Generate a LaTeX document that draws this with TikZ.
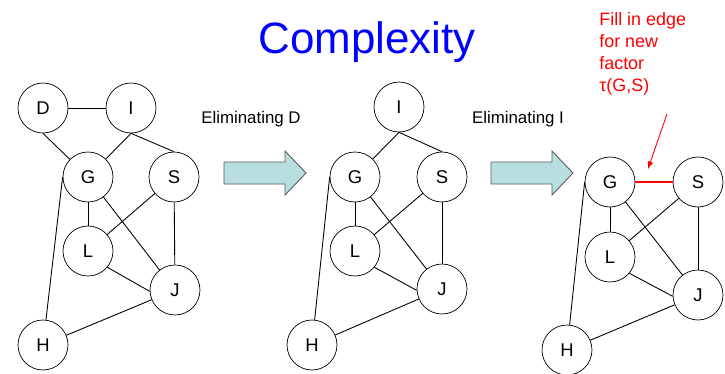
\documentclass[tikz,border=0pt]{standalone}
\usepackage{fontspec}
\setmainfont{Liberation Sans}
\usepackage{tikz}
\usetikzlibrary{arrows,shapes,positioning}
\definecolor{arrowfill}{RGB}{185,222,224}
\definecolor{arrowdraw}{RGB}{90,90,90}

\begin{document}
\begin{tikzpicture}[x=0.02cm,y=-0.02cm]
                    \tikzstyle{var}=[draw=black, circle, minimum size=1cm, inner sep=0pt, font=\fontsize{10.5}{12}\selectfont]
                    \tikzstyle{edge}=[black, line width=0.5pt]
                    \tikzstyle{fill in}=[red, line width=0.7pt]
                    \tikzstyle{step label}=[anchor=base, inner sep=0pt, font=\fontsize{9.6}{11}\selectfont]
                    \useasboundingbox (0,0) rectangle (725,373);
                    \draw (367,53) node [anchor=base, inner sep=0pt, text=blue, font=\fontsize{25}{30}\selectfont] (title) {Complexity};
                    % before
                    \node [var] (D1) at (43,108) {D};
                    \node [var] (I1) at (131,108) {I};
                    \node [var] (G1) at (88,177) {G};
                    \node [var] (S1) at (174,177) {S};
                    \node [var] (L1) at (88,251) {L};
                    \node [var] (J1) at (175,290) {J};
                    \node [var] (H1) at (43,345) {H};
                    \draw [edge] (D1) -- (I1);
                    \draw [edge] (D1.south) -- (G1);
                    \draw [edge] (I1.south) -- (G1);
                    \draw [edge] (I1.south) -- (S1.north);
                    \draw [edge] (G1) -- (L1);
                    \draw [edge] (G1) -- (J1);
                    \draw [edge] (S1) -- (L1);
                    \draw [edge] (S1) -- (J1);
                    \draw [edge] (L1.-40) -- (J1.183);
                    \draw [edge] (H1) -- (G1.west);
                    \draw [edge] (H1) -- (J1);
                    \node [step label] (elimD) at (251,123) {Eliminating D};
                    \draw [arrowdraw, fill=arrowfill, line width=0.5pt] (224,162) -- (285,162) -- (285,151) -- (306,173)
                          -- (285,195) -- (285,184) -- (224,184) -- cycle;
                    % after D
                    \node [var] (I2) at (399,107) {I};
                    \node [var] (G2) at (355,177) {G};
                    \node [var] (S2) at (442,177) {S};
                    \node [var] (L2) at (355,251) {L};
                    \node [var] (J2) at (442,289) {J};
                    \node [var] (H2) at (312,345) {H};
                    \draw [edge] (I2.south) -- (G2);
                    \draw [edge] (I2.south) -- (S2.north);
                    \draw [edge] (G2) -- (L2);
                    \draw [edge] (G2) -- (J2);
                    \draw [edge] (S2) -- (L2);
                    \draw [edge] (S2) -- (J2);
                    \draw [edge] (L2.-40) -- (J2.183);
                    \draw [edge] (H2) -- (G2.west);
                    \draw [edge] (H2) -- (J2);
                    \node [step label] (elimI) at (518,123) {Eliminating I};
                    \draw [arrowdraw, fill=arrowfill, line width=0.5pt] (491,162) -- (552,162) -- (552,151) -- (573,173)
                          -- (552,195) -- (552,184) -- (491,184) -- cycle;
                    % after I
                    \node [var] (G3) at (610,182) {G};
                    \node [var] (S3) at (698,182) {S};
                    \node [var] (L3) at (610,257) {L};
                    \node [var] (J3) at (698,295) {J};
                    \node [var] (H3) at (567,350) {H};
                    \draw [fill in] (G3) -- (S3);
                    \draw [edge] (G3) -- (L3);
                    \draw [edge] (G3) -- (J3);
                    \draw [edge] (S3) -- (L3);
                    \draw [edge] (S3) -- (J3);
                    \draw [edge] (L3.-40) -- (J3.183);
                    \draw [edge] (H3) -- (G3.west);
                    \draw [edge] (H3) -- (J3);
                    \node [anchor=north west, inner sep=0pt, align=left, text=red, font=\fontsize{10.2}{12.5}\selectfont] (note) at (599,12)
                          {Fill in edge\\for new\\factor\\τ(G,S)};
                    \coordinate (noteend) at (667,114);
                    \coordinate (notetip) at (648,169);
                    \draw [red, line width=0.5pt, -latex] (noteend) -- (notetip);
\end{tikzpicture}
\end{document}
